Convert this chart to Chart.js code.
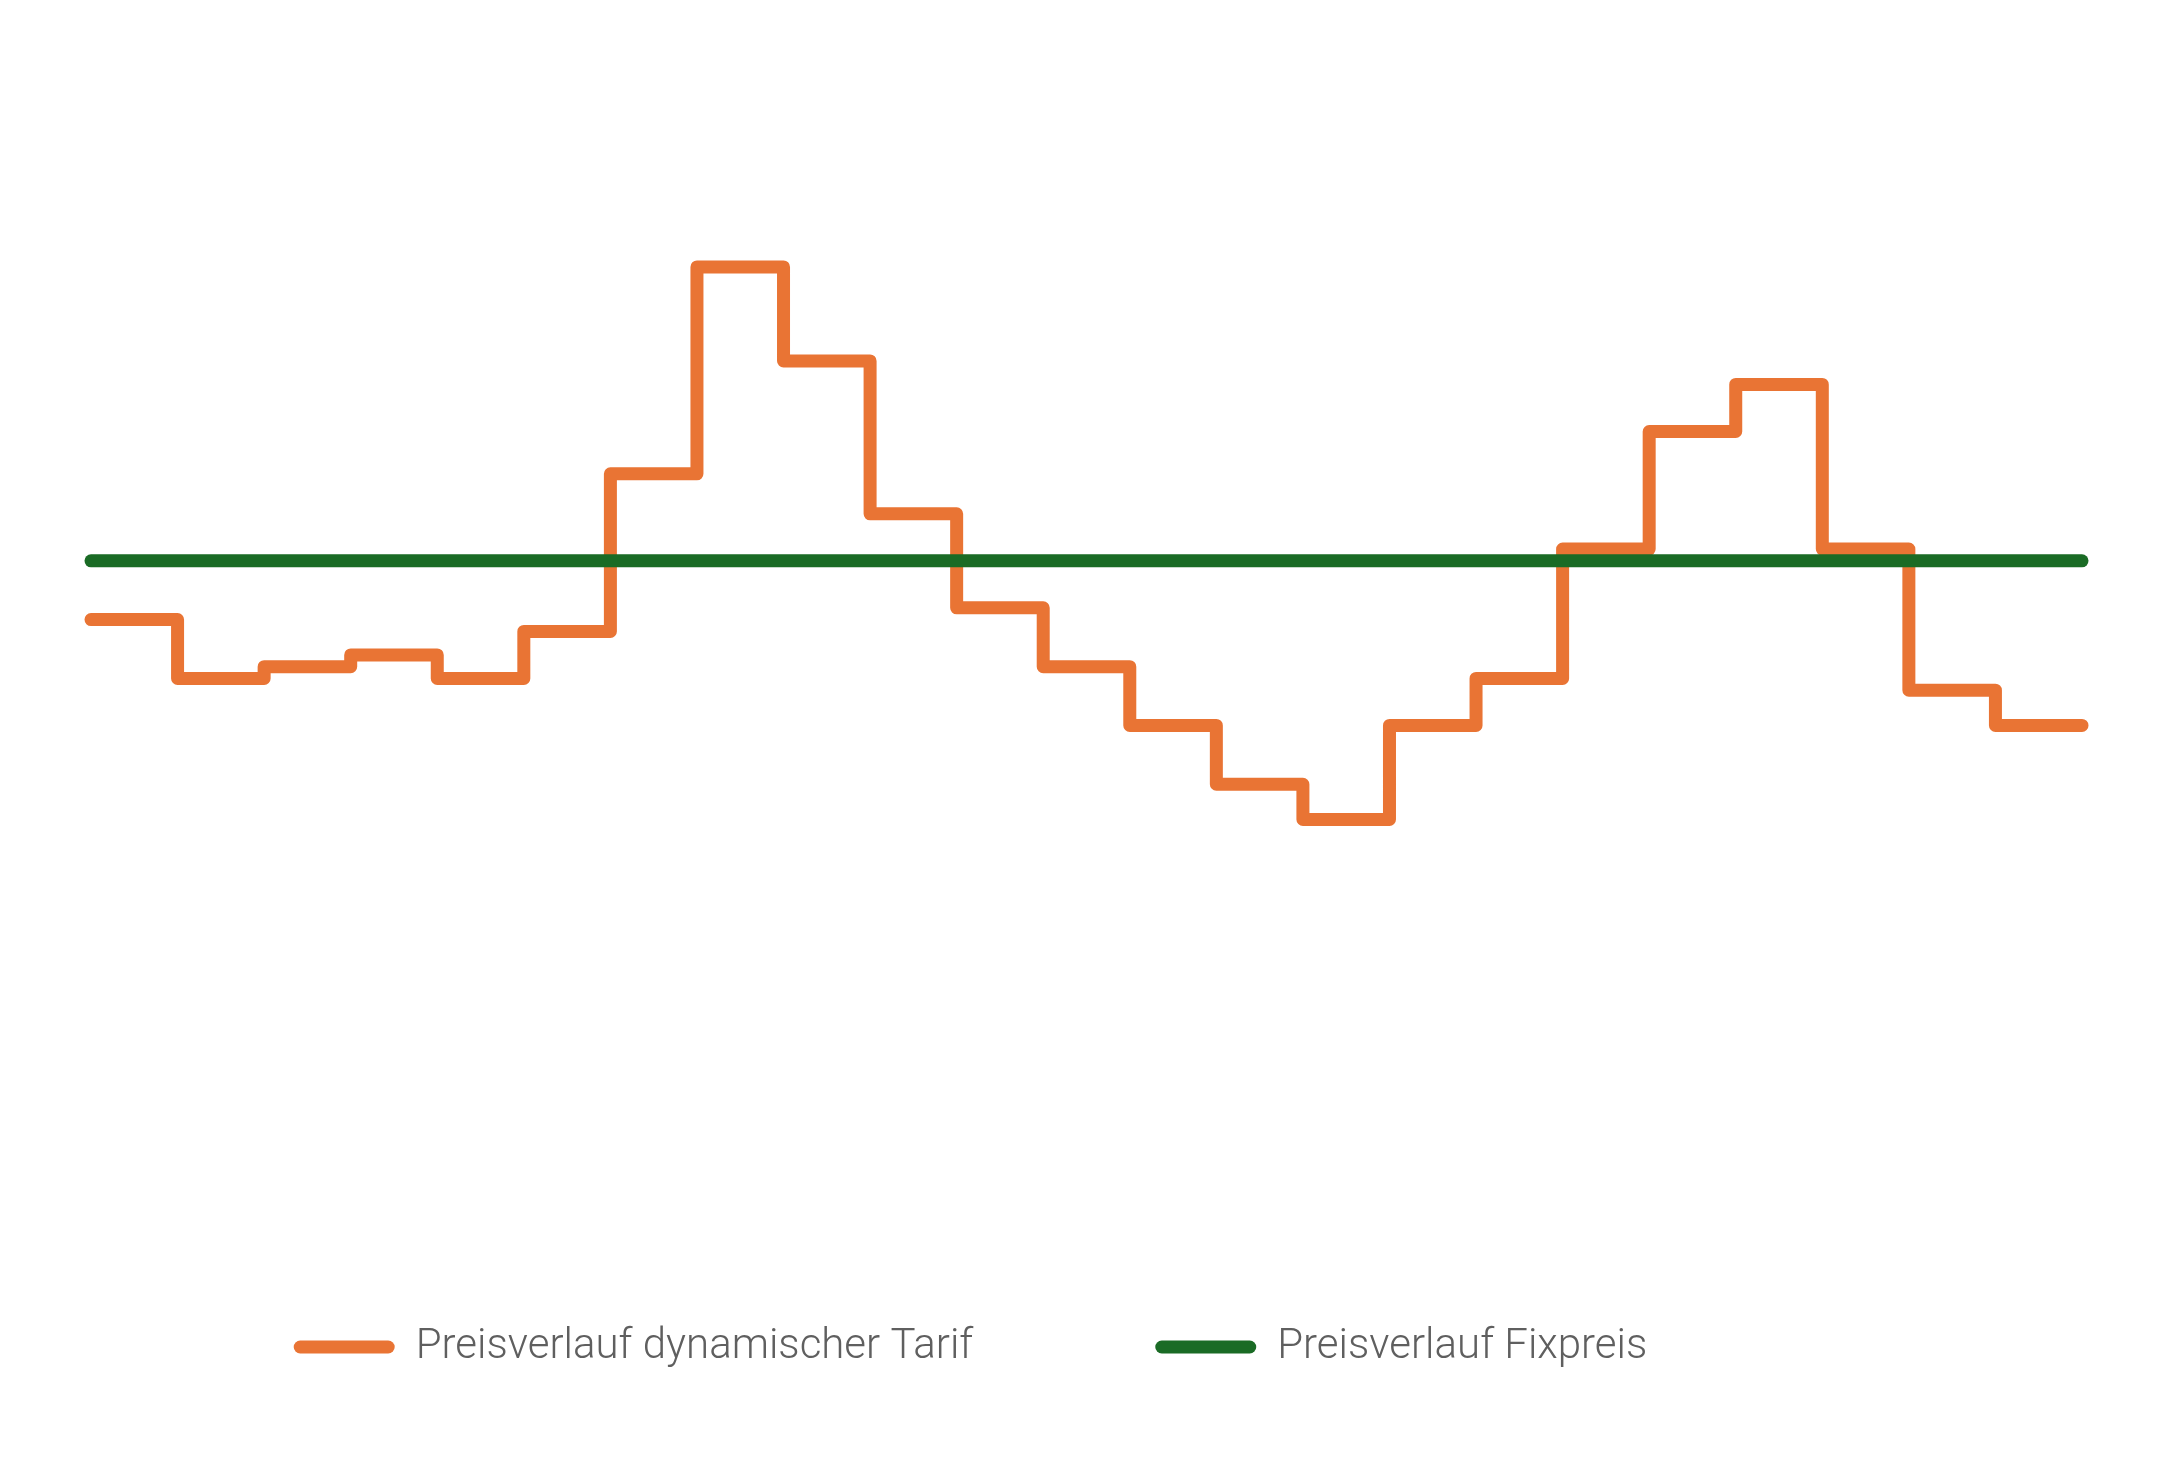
<!DOCTYPE html>
<html lang="de">
<head>
  <meta charset="UTF-8"/>
  <title>Preisverlauf</title>
  <script src="https://cdn.jsdelivr.net/npm/chart.js"></script>
  <style>
    html, body {
      margin: 0;
      padding: 0;
      background: #fff;
    }
    .chart-box {
      width: 2165px;
      height: 1468px;
    }
  </style>
</head>
<body>
  <div class="chart-box">
    <canvas id="chart"></canvas>
  </div>

  <script>
    // Stunden (24 Punkte -> 23 Stufen)
    const stunden = [
      "00:00","01:00","02:00","03:00","04:00","05:00","06:00","07:00",
      "08:00","09:00","10:00","11:00","12:00","13:00","14:00","15:00",
      "16:00","17:00","18:00","19:00","20:00","21:00","22:00","23:00"
    ];
    // ct/kWh, geschaetzt aus der Grafik
    const preisDynamisch = [
      25, 20, 21, 22, 20, 24, 37.4, 55, 47, 34, 26, 21,
      16, 11, 8, 16, 20, 31, 41, 45, 31, 19, 16, 16
    ];
    const preisFix = [
      30, 30, 30, 30, 30, 30, 30, 30, 30, 30, 30, 30,
      30, 30, 30, 30, 30, 30, 30, 30, 30, 30, 30, 30
    ];

    const labelDynamisch = "Preisverlauf dynamischer Tarif";
    const labelFix = "Preisverlauf Fixpreis";

    // Legende etwas nach links schieben (wie im Original)
    const legendShift = {
      id: "legendShift",
      afterLayout(chart) {
        chart.legend.left -= 116;
        chart.legend.right -= 116;
      }
    };

    const ctx = document.getElementById("chart").getContext("2d");
    new Chart(ctx, {
      type: "line",
      data: {
        labels: stunden,
        datasets: [
          {
            label: labelDynamisch,
            data: preisDynamisch,
            borderColor: "#e97434",
            backgroundColor: "#e97434",
            borderWidth: 13,
            borderCapStyle: "round",
            borderJoinStyle: "round",
            stepped: true,
            pointRadius: 0,
            clip: false,
            order: 1
          },
          {
            label: labelFix,
            data: preisFix,
            borderColor: "#1a6b25",
            backgroundColor: "#1a6b25",
            borderWidth: 13,
            borderCapStyle: "round",
            pointRadius: 0,
            clip: false,
            order: 0
          }
        ]
      },
      options: {
        responsive: true,
        maintainAspectRatio: false,
        animation: false,
        layout: {
          padding: { top: 0, left: 91, right: 83, bottom: 90 }
        },
        plugins: {
          tooltip: { enabled: false },
          legend: {
            position: "bottom",
            labels: {
              boxWidth: 101,
              boxHeight: 13,
              useBorderRadius: true,
              padding: 182,
              color: "#5f5f5f",
              font: { family: "Roboto", weight: "300", size: 42 },
              generateLabels: (chart) =>
                chart.data.datasets.map((ds, i) => ({
                  text: ds.label,
                  fillStyle: ds.borderColor,
                  strokeStyle: ds.borderColor,
                  lineWidth: 0,
                  borderRadius: 6.5,
                  fontColor: "#5f5f5f",
                  hidden: !chart.isDatasetVisible(i),
                  datasetIndex: i
                }))
            }
          }
        },
        scales: {
          x: { display: false },
          y: { display: false, min: -19.6, max: 77.7 }
        }
      },
      plugins: [legendShift]
    });
  </script>
</body>
</html>
